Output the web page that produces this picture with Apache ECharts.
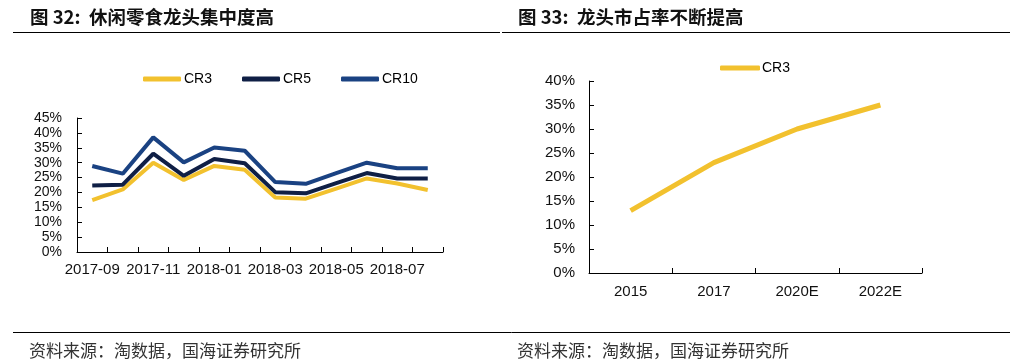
<!DOCTYPE html>
<html>
<head>
<meta charset="utf-8">
<script src="https://cdn.jsdelivr.net/npm/echarts@6/dist/echarts.min.js"></script>
<style>html,body{margin:0;padding:0;background:#fff;}#c{width:1012px;height:362px;}</style>
</head>
<body>
<div id="c"></div>
<script>
// Left chart data
var months = ['2017-09','2017-10','2017-11','2017-12','2018-01','2018-02','2018-03','2018-04','2018-05','2018-06','2018-07','2018-08'];
var cr3 = [17.4, 21.0, 30.0, 24.2, 28.9, 27.6, 18.3, 17.9, 21.3, 24.7, 23.0, 20.8];
var cr5 = [22.3, 22.6, 33.0, 25.6, 31.2, 29.8, 20.1, 19.7, 23.1, 26.5, 24.7, 24.7];
var cr10 = [28.9, 26.3, 38.5, 30.1, 35.1, 34.0, 23.5, 22.9, 26.5, 30.0, 28.1, 28.1];
var leftYTicks = [0, 45, 5];
// Right chart data
var years = ['2015', '2017', '2020E', '2022E'];
var cr3Share = [13, 23, 30, 35];
var rightYTicks = [0, 40, 5];

var YELLOW = '#F2C12E', NAVY = '#0F1F45', BLUE = '#1A4282';
var FONT = '"Liberation Sans", Arial, sans-serif';
var CJK = '"Noto Sans CJK SC", sans-serif';

var chart = echarts.init(document.getElementById('c'), null, {renderer: 'canvas'});
function pct(v){ return v + '%'; }
var axisLine = {show: true, lineStyle: {color: '#000', width: 1}};
var axisTick = {show: true, inside: true, length: 5, lineStyle: {color: '#000'}};

chart.setOption({
  animation: false,
  backgroundColor: '#fff',
  title: [
    {text: '图 32:  休闲零食龙头集中度高', left: 25, top: 3, textStyle: {fontFamily: CJK, fontSize: 18.5, fontWeight: 'bold', color: '#111'}},
    {text: '图 33:  龙头市占率不断提高', left: 513, top: 3, textStyle: {fontFamily: CJK, fontSize: 18.5, fontWeight: 'bold', color: '#111'}},
    {text: '资料来源：淘数据，国海证券研究所', left: 24, top: 337, textStyle: {fontFamily: CJK, fontSize: 17, fontWeight: 'normal', color: '#333'}},
    {text: '资料来源：淘数据，国海证券研究所', left: 512, top: 337, textStyle: {fontFamily: CJK, fontSize: 17, fontWeight: 'normal', color: '#333'}}
  ],
  graphic: [
    {type: 'line', shape: {x1: 13, y1: 32.5, x2: 500, y2: 32.5}, style: {stroke: '#000', lineWidth: 1}},
    {type: 'line', shape: {x1: 502, y1: 32.5, x2: 1010, y2: 32.5}, style: {stroke: '#000', lineWidth: 1}},
    {type: 'line', shape: {x1: 13, y1: 332.5, x2: 1010, y2: 332.5}, style: {stroke: '#000', lineWidth: 1}}
  ],
  legend: [
    {data: ['CR3', 'CR5', 'CR10'], left: 138, top: 67, itemWidth: 38, itemHeight: 5, itemGap: 30, icon: 'roundRect',
     textStyle: {fontFamily: FONT, fontSize: 14, color: '#000', padding: [0, 0, 0, -2]}},
    {data: ['CR3 '], left: 715, top: 56, itemWidth: 40, itemHeight: 5, icon: 'roundRect',
     textStyle: {fontFamily: FONT, fontSize: 14, color: '#000', padding: [0, 0, 0, -3]}}
  ],
  grid: [
    {left: 77, top: 118, width: 366, height: 134},
    {left: 589, top: 81, width: 333, height: 192}
  ],
  xAxis: [
    {type: 'category', gridIndex: 0, data: months, boundaryGap: true, axisLine: axisLine,
     axisTick: {show: true, inside: true, length: 5, interval: 0, lineStyle: {color: '#000'}},
     axisLabel: {interval: 1, margin: 10, fontFamily: FONT, fontSize: 15, color: '#111'}},
    {type: 'category', gridIndex: 1, data: years, boundaryGap: true, axisLine: axisLine,
     axisTick: {show: true, inside: true, length: 5, interval: 0, lineStyle: {color: '#000'}},
     axisLabel: {interval: 0, margin: 11, fontFamily: FONT, fontSize: 15, color: '#111'}}
  ],
  yAxis: [
    {type: 'value', gridIndex: 0, min: leftYTicks[0], max: leftYTicks[1], interval: leftYTicks[2], axisLine: axisLine, axisTick: axisTick,
     splitLine: {show: false}, axisLabel: {formatter: pct, margin: 15, fontFamily: FONT, fontSize: 14, color: '#111'}},
    {type: 'value', gridIndex: 1, min: rightYTicks[0], max: rightYTicks[1], interval: rightYTicks[2], axisLine: axisLine, axisTick: axisTick,
     splitLine: {show: false}, axisLabel: {formatter: pct, margin: 14, fontFamily: FONT, fontSize: 15, color: '#111'}}
  ],
  series: [
    {name: 'CR3', type: 'line', xAxisIndex: 0, yAxisIndex: 0, data: cr3, showSymbol: false, symbol: 'none', color: YELLOW, lineStyle: {width: 4, color: YELLOW}, z: 3},
    {name: 'CR5', type: 'line', xAxisIndex: 0, yAxisIndex: 0, data: cr5, showSymbol: false, symbol: 'none', color: NAVY, lineStyle: {width: 4, color: NAVY}, z: 4},
    {name: 'CR10', type: 'line', xAxisIndex: 0, yAxisIndex: 0, data: cr10, showSymbol: false, symbol: 'none', color: BLUE, lineStyle: {width: 4, color: BLUE}, z: 5},
    {name: 'CR3 ', type: 'line', xAxisIndex: 1, yAxisIndex: 1, data: cr3Share, showSymbol: false, symbol: 'none', color: YELLOW, lineStyle: {width: 5, color: YELLOW}}
  ]
});
</script>
</body>
</html>
